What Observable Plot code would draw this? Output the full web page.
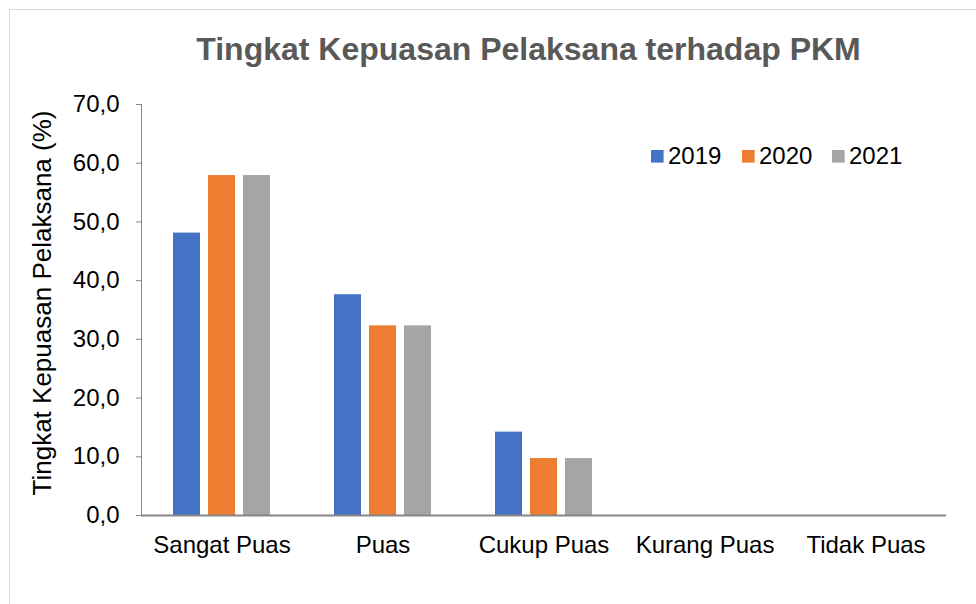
<!DOCTYPE html>
<html>
<head>
<meta charset="utf-8">
<script src="https://cdn.jsdelivr.net/npm/d3@7"></script>
<script src="https://cdn.jsdelivr.net/npm/@observablehq/plot@0.6"></script>
<style>
  html, body { margin: 0; padding: 0; background: #fff; }
  #chart { position: relative; width: 976px; height: 604px; overflow: hidden; }
  #frame { position: absolute; left: 9px; top: 9px; width: 1200px; height: 1200px;
           border-top: 1.5px solid #d9d9d9; border-left: 1.5px solid #d9d9d9; box-sizing: border-box; }
  #chart svg { position: absolute; left: 0; top: 0; }
</style>
</head>
<body>
<div id="chart"><div id="frame"></div></div>
<script>
const title = "Tingkat Kepuasan Pelaksana terhadap PKM";
const yTitle = "Tingkat Kepuasan Pelaksana (%)";
const categories = ["Sangat Puas", "Puas", "Cukup Puas", "Kurang Puas", "Tidak Puas"];
const years = ["2019", "2020", "2021"];
const v2019 = [48.1, 37.6, 14.2, 0, 0];
const v2020 = [57.9, 32.3, 9.7, 0, 0];
const v2021 = [57.9, 32.3, 9.7, 0, 0];
const yTicks = [0, 10, 20, 30, 40, 50, 60, 70];
const colors = ["#4472C4", "#ED7D31", "#A5A5A5"];

const series = [v2019, v2020, v2021];
const rows = [];
categories.forEach((c, i) => years.forEach((y, j) => rows.push({cat: c, year: y, value: series[j][i]})));

const plot = Plot.plot({
  width: 976,
  height: 604,
  marginLeft: 140,
  marginRight: 30,
  marginTop: 104,
  marginBottom: 89,
  style: {fontFamily: "'Liberation Sans', Arial, sans-serif", fontSize: "24px", color: "#868686", background: "transparent", overflow: "visible"},
  fx: {domain: categories, padding: 0, label: null, axis: "bottom", tickSize: 0, tickPadding: 20},
  x: {domain: years, paddingInner: 0.222, paddingOuter: 0.86, axis: null},
  y: {domain: [0, 70], ticks: yTicks, tickFormat: d => d.toFixed(1).replace(".", ","), label: null,
      tickSize: 5, tickPadding: 17, line: true},
  color: {domain: years, range: colors},
  marks: [
    Plot.barY(rows, {fx: "cat", x: "year", y: "value", fill: "year"}),
    Plot.ruleY([0], {stroke: "#868686", strokeWidth: 2})
  ]
});

const svg = d3.select(plot);
svg.selectAll("text").attr("fill", "#000");

// chart title
svg.append("text")
  .attr("x", 528.5).attr("y", 60)
  .attr("text-anchor", "middle")
  .attr("fill", "#595959")
  .style("font-size", "32px").style("font-weight", "bold")
  .text(title);

// y axis title
svg.append("text")
  .attr("transform", "translate(51,303) rotate(-90)")
  .attr("text-anchor", "middle")
  .attr("fill", "#000")
  .style("font-size", "26px")
  .text(yTitle);

// legend
const legX = [651, 742, 832];
years.forEach((y, i) => {
  svg.append("rect").attr("x", legX[i]).attr("y", 150).attr("width", 12.6).attr("height", 12.6).attr("fill", colors[i]);
  svg.append("text").attr("x", legX[i] + 17).attr("y", 164).attr("text-anchor", "start")
    .attr("fill", "#000").style("font-size", "24px").text(y);
});

document.getElementById("chart").appendChild(plot);
</script>
</body>
</html>
